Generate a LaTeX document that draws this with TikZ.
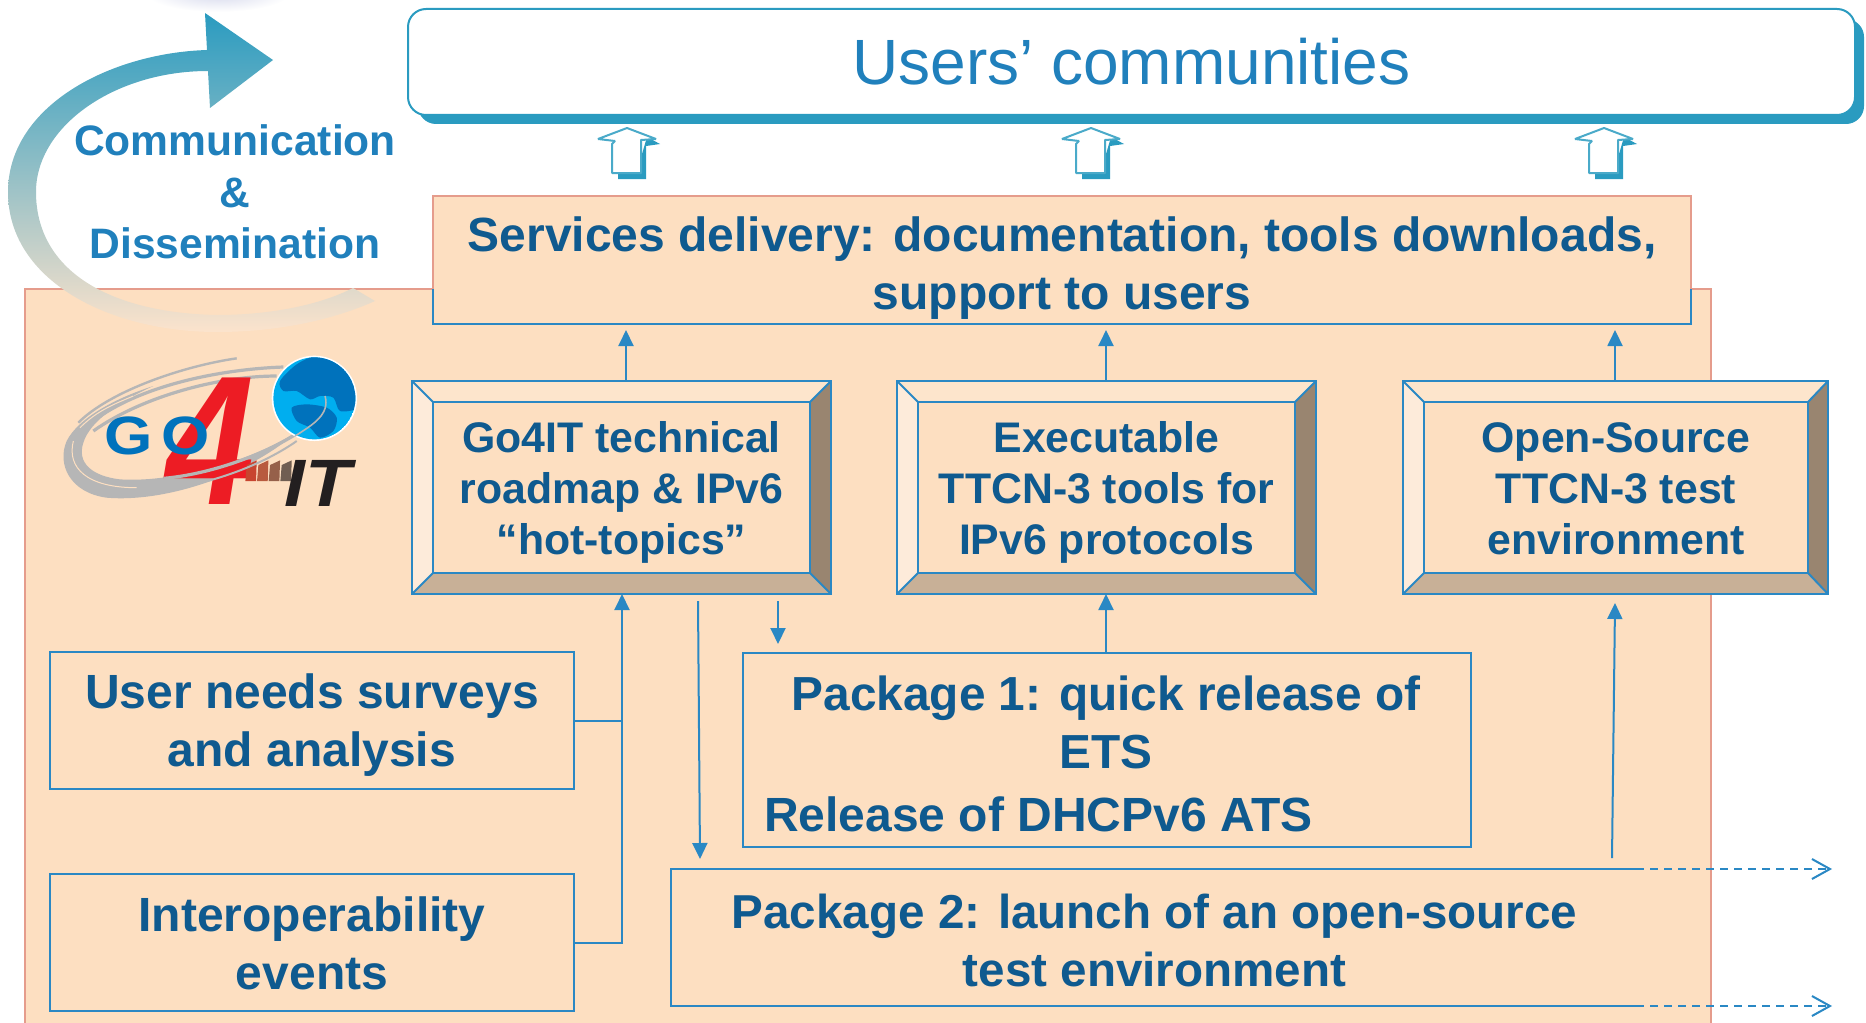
\documentclass[tikz,border=0pt]{standalone}
\usepackage{fontspec}
\setmainfont{Liberation Sans}
\usetikzlibrary{arrows.meta,calc}
\definecolor{peach}{HTML}{FDDFC1}
\definecolor{pinkline}{HTML}{E59C8C}
\definecolor{blueline}{HTML}{2A88C4}
\definecolor{tealc}{HTML}{2A9BC0}
\definecolor{navyt}{HTML}{0F5A8F}
\definecolor{midt}{HTML}{2080BC}
\definecolor{bevtop}{HTML}{FDE5CC}
\definecolor{bevleft}{HTML}{FDEBDA}
\definecolor{bevright}{HTML}{998570}
\definecolor{bevbot}{HTML}{C8B097}
\definecolor{swoosh}{HTML}{B6B6B6}
\definecolor{logoblue}{HTML}{0072BC}
\definecolor{oceanb}{HTML}{00AEEF}
\definecolor{fourred}{HTML}{ED1C24}
\definecolor{hazec}{HTML}{D5D8EC}
\definecolor{midgrad}{HTML}{C8CCC8}
\definecolor{lowgrad}{HTML}{FCE3CC}
\definecolor{itblack}{HTML}{231F20}
\tikzset{
  x=0.5pt,y=-0.5pt,
  wh/.style 2 args={minimum width=#1*0.5pt,minimum height=#2*0.5pt},
  base/.style={inner sep=0pt,outer sep=0pt,align=center,text=navyt},
  plainbox/.style={base,draw=blueline,line width=1.2pt,fill=peach},
  outerb/.style={base,draw=blueline,line width=1.2pt,fill=peach},
  strutted/.style={base,execute at begin node=\strut,execute at end node=\strut},
  largetxt/.style={strutted,font=\bfseries\fontsize{24}{29}\selectfont},
  lowertxt/.style={strutted,font=\bfseries\fontsize{23.9}{29}\selectfont},
  beveltxt/.style={strutted,font=\bfseries\fontsize{21.4}{25.5}\selectfont},
  conn/.style={draw=blueline,line width=1pt},
  arrowup/.style={conn,-{Triangle[length=8pt,width=7.5pt]}},
  dashline/.style={draw=blueline,line width=1pt,dash pattern=on 4pt off 3pt,-{Straight Barb[length=9pt,width=10pt,line width=1pt]}},
  bigup/.pic={
    \fill[tealc] (20,136)--(33,143)--(19,145)--(19,178)--(-9,178)--(-9,170)--(10,170)--cycle;
    \draw[draw=tealc!85,fill=white,line width=1pt,line join=bevel] (0,127)--(29,138)--(14,139)--(14,172)--(-15,172)--(-15,143)--(-12,140)--(-29,138)--cycle;
  }
}
\newcommand{\bevel}[2]{%
  \fill[bevtop] (#1.north west)--(#1.north east)--(#2.north east)--(#2.north west)--cycle;
  \fill[bevleft] (#1.north west)--(#2.north west)--(#2.south west)--(#1.south west)--cycle;
  \fill[bevright] (#1.north east)--(#2.north east)--(#2.south east)--(#1.south east)--cycle;
  \fill[bevbot] (#1.south west)--(#2.south west)--(#2.south east)--(#1.south east)--cycle;
  \draw[blueline,line width=1pt] (#1.north west)--(#2.north west) (#1.north east)--(#2.north east) (#1.south west)--(#2.south west) (#1.south east)--(#2.south east);
  \draw[blueline,line width=1.2pt] (#1.north west) rectangle (#1.south east);
  \draw[blueline,line width=1.2pt] (#2.north west) rectangle (#2.south east);
}
\begin{document}
\begin{tikzpicture}
\useasboundingbox (0,-1) rectangle (1866,1021);
% main panel
\fill[peach] (25,288) rectangle (1711,1040);
\draw[pinkline,line width=1.3pt] (25,1040)--(25,288)--(1711,288)--(1711,1040);
% faint shape at the top
\shade[inner color=hazec,outer color=white] (218,-8) ellipse [x radius=72,y radius=19];
% gradient arrow
\shade[top color=tealc,middle color=midgrad,bottom color=lowgrad]
  (207,49) .. controls (110,52) and (8,105) .. (8,191)
  .. controls (8,280) and (110,331) .. (217,331)
  .. controls (280,331) and (335,318) .. (375,300)
  -- (353,287) .. controls (320,304) and (270,314) .. (217,314)
  .. controls (110,312) and (36,270) .. (36,191)
  .. controls (36,125) and (115,70) .. (208,70)
  -- (210,107) -- (273,59) -- (205,12) -- cycle;
\node[base,text=midt,font=\bfseries\fontsize{21.3}{25.7}\selectfont] (comm) at (235,191) {Communication\\\&\\Dissemination};
% users box
\fill[tealc,rounded corners=9pt] (418,18) rectangle (1864,123);
\node[base,draw=tealc,line width=1pt,fill=white,rounded corners=9pt,wh={1447}{106},text=midt,font=\fontsize{32}{36}\selectfont] (users) at (1131.5,61) {Users’ communities};
\pic at (627,0) {bigup};
\pic at (1091,0) {bigup};
\pic at (1604,0) {bigup};
% services
\node[base,fill=peach,wh={1258}{128}] (serv) at (1062,259) {};
\node[largetxt] (servt) at (1062,270.8) {Services delivery: documentation, tools downloads,\\support to users};
\draw[pinkline,line width=1.3pt] (serv.west |- 0,288)--(serv.north west)--(serv.north east)--(serv.east |- 0,288);
\draw[blueline,line width=1.2pt] (serv.west |- 0,288)--(serv.south west)--(serv.south east)--(serv.east |- 0,288);
% bevelled boxes
\node[outerb,wh={419}{213}] (b1o) at (621.5,486.5) {};
\node[plainbox,wh={377}{171}] (b1i) at (621.5,486.5) {};
\bevel{b1o}{b1i}
\node[beveltxt] (b1t) at (621.5,494.7) {Go4IT technical\\roadmap \& IPv6\\“hot-topics”};
\node[outerb,wh={419}{213}] (b2o) at (1106.5,486.5) {};
\node[plainbox,wh={377}{171}] (b2i) at (1106.5,486.5) {};
\bevel{b2o}{b2i}
\node[beveltxt] (b2t) at (1106.5,494.7) {Executable\\TTCN-3 tools for\\IPv6 protocols};
\node[outerb,wh={425}{213}] (b3o) at (1615.5,486.5) {};
\node[plainbox,wh={384}{171}] (b3i) at (1616,486.5) {};
\bevel{b3o}{b3i}
\node[beveltxt] (b3t) at (1616,495) {Open-Source\\TTCN-3 test\\environment};
% lower boxes
\node[plainbox,wh={524}{137}] (needs) at (312,719.5) {};
\node[largetxt] (needst) at (312,728) {User needs surveys\\and analysis};
\node[plainbox,wh={524}{137}] (interop) at (312,941.5) {};
\node[largetxt] (interopt) at (312,951) {Interoperability\\events};
\node[plainbox,wh={728}{194}] (pk1) at (1107,749) {};
\node[lowertxt] (pk1a) at (1106,729.4) {Package 1: quick release of\\ETS};
\node[base,font=\bfseries\fontsize{24}{29}\selectfont,anchor=base west] (pk1b) at (764,830) {Release of DHCPv6 ATS};
\node[base,wh={967}{137}] (pk2) at (1154.5,936.5) {};
\node[base,strutted,font=\bfseries\fontsize{23.8}{29}\selectfont] (pk2t) at (1154.5,947.8) {Package 2: launch of an open-source\\test environment};
\draw[blueline,line width=1.2pt] (pk2.north east)--(pk2.north west)--(pk2.south west)--(pk2.south east);
% connectors
\coordinate (t1) at (626,329);
\coordinate (t2) at (1106,329);
\coordinate (t3) at (1615,329);
\draw[arrowup] (t1 |- b1o.north) -- (t1);
\draw[arrowup] (t2 |- b2o.north) -- (t2);
\draw[arrowup] (t3 |- b3o.north) -- (t3);
\coordinate (u1) at (622,593);
\draw[arrowup] (interop.east |- 0,942) -- (622,942) -- (u1);
\draw[conn] (needs.east) -- (needs.east -| u1);
\coordinate (u2) at (1106,593);
\draw[arrowup] (u2 |- pk1.north) -- (u2);
\coordinate (u3s) at (1612,857);
\coordinate (u3) at (1615,602);
\draw[arrowup] (u3s) -- (u3);
\coordinate (d1s) at (698,600);
\coordinate (d1) at (700,858);
\draw[arrowup] (d1s) -- (d1);
\coordinate (d2s) at (778,600);
\coordinate (d2) at (778,643);
\draw[arrowup] (d2s) -- (d2);
% dashed outputs
\coordinate (e1s) at (1608,868);
\coordinate (e1) at (1832,868);
\coordinate (e2s) at (1608,1005);
\coordinate (e2) at (1832,1005);
\draw[dashline] (e1s) -- (e1);
\draw[dashline] (e2s) -- (e2);
% logo
\begin{scope}[shift={(50,340)},x=0.1667pt,y=-0.1667pt]
  \draw[swoosh,line width=1.2pt] (560,52) .. controls (400,75) and (180,150) .. (85,245);
  \draw[swoosh,line width=1.6pt] (700,78) .. controls (500,85) and (230,140) .. (95,270);
  \draw[swoosh,line width=1.6pt] (680,105) .. controls (500,105) and (270,170) .. (130,270);
  \fill[swoosh] (750,265) .. controls (600,400) and (350,485) .. (170,470)
    .. controls (60,455) and (20,370) .. (50,300)
    .. controls (85,230) and (200,170) .. (310,135)
    .. controls (210,180) and (120,240) .. (100,305)
    .. controls (80,365) and (125,405) .. (210,415)
    .. controls (350,425) and (600,370) .. (750,265) -- cycle;
  \draw[peach,line width=0.5pt] (70,300) .. controls (50,380) and (110,440) .. (260,440);
  \draw[peach,line width=0.5pt] (90,260) .. controls (140,210) and (190,190) .. (250,165);
  \node[base,text=fourred,font=\bfseries\itshape\fontsize{92}{92}\selectfont,xscale=0.86] (logofour) at (480,300) {4};
  \node[base,text=logoblue,font=\bfseries\fontsize{27}{30}\selectfont\addfontfeatures{LetterSpace=14},xscale=1.15] (logogo) at (322,285) {GO};
  \foreach \xa/\colr in {590/C8452F,625/B85A3E,660/96604A,695/705E52}{
    \definecolor{stripec}{HTML}{\colr}
    \fill[stripec] (\xa,372) -- (\xa+30,358) -- (\xa+28,420) -- (\xa-4,420) -- cycle;
  }
  \draw[swoosh,line width=1.6pt] (760,265) .. controls (650,340) and (480,400) .. (340,412);
  \draw[swoosh,line width=1pt] (740,300) .. controls (640,370) and (500,420) .. (400,435);
  \fill[white] (793,172) circle [radius=128];
  \begin{scope}
    \clip (793,172) circle [radius=123];
    \fill[oceanb] (793,172) circle [radius=123];
    \fill[logoblue] plot[smooth cycle] coordinates {(690,120) (740,70) (800,45) (870,60) (925,150) (925,200) (870,210) (850,170) (810,165) (780,175) (740,150) (700,150)};
    \fill[logoblue] plot[smooth cycle] coordinates {(725,200) (770,190) (830,200) (860,230) (850,270) (810,290) (780,260) (740,240)};
  \end{scope}
  \draw[swoosh,line width=0.8pt] (735,285) .. controls (790,250) and (840,220) .. (825,165);
  \node[base,text=itblack,font=\bfseries\itshape\fontsize{33.5}{34}\selectfont,xscale=1.12] (logoit) at (803,428) {IT};
\end{scope}
\end{tikzpicture}
\end{document}
